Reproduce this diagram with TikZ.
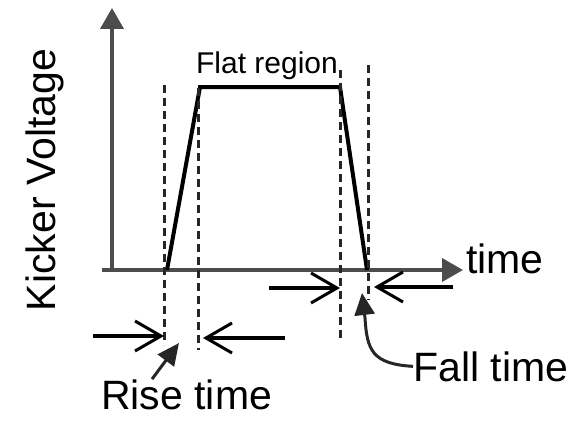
\documentclass[tikz,border=0pt]{standalone}
\usepackage{fontspec}
\setmainfont{Liberation Sans}
\usetikzlibrary{arrows.meta}

\begin{document}
\begin{tikzpicture}[
  x=1pt, y=-1pt,
  axis/.style={line width=4pt, black!70, -{Triangle[length=21pt,width=23pt]}},
  pulse/.style={line width=4pt, line join=miter},
  guide/.style={line width=3pt, dash pattern=on 8pt off 5pt, black!85},
  dim/.style={line width=4pt, -{Straight Barb[length=26pt,width=30pt,line width=3pt]}},
  pointer/.style={line width=3pt, black!85, -{Triangle[length=22pt,width=20pt]}},
  bigtext/.style={font=\fontsize{41}{48}\selectfont, inner sep=0pt},
  smalltext/.style={font=\fontsize{30}{36}\selectfont, inner sep=0pt}
]
  \useasboundingbox (0,0) rectangle (585,420);

  % labels
  \node (ylab) [bigtext, rotate=90, anchor=base] at (55,180) {Kicker Voltage};
  \node (flat) [smalltext, anchor=base] at (267,73) {Flat region};
  \node (tlab) [bigtext, anchor=base west] at (466,273) {time};
  \node (fall) [bigtext, anchor=base west] at (413,381) {Fall time};
  \node (rise) [bigtext, anchor=base west] at (101,409) {Rise time};

  % axes
  \coordinate (origin) at (112,270);
  \coordinate (ytip)   at (112,8);
  \coordinate (xstart) at (102,270);
  \coordinate (xtip)   at (463,270);
  \draw[axis] (origin) -- (ytip);
  \draw[axis] (xstart) -- (xtip);

  % pulse shape
  \coordinate (rise0) at (167,270);
  \coordinate (rise1) at (200,87);
  \coordinate (fall0) at (340,87);
  \coordinate (fall1) at (367,270);
  \draw[pulse] (rise0) -- (rise1) -- (fall0) -- (fall1);

  % guide lines
  \foreach \x/\a/\b in {164/85/345, 198/88/350, 340/70/340, 368/65/300}
    \draw[guide] (\x,\a) -- (\x,\b);

  % time markers
  \foreach \a/\b/\y in {93/164/336, 285/203/338, 269/340/288, 453/374/287}
    \draw[dim] (\a,\y) -- (\b,\y);

  % pointers to the labels
  \coordinate (risept) at (179,343);
  \coordinate (fallpt) at (362,293);
  \draw[pointer] ([xshift=51pt]rise.north west) -- (risept);
  \draw[pointer] (fall.west) .. controls (372,364) and (367,350) .. (365,318) -- (fallpt);
\end{tikzpicture}
\end{document}
